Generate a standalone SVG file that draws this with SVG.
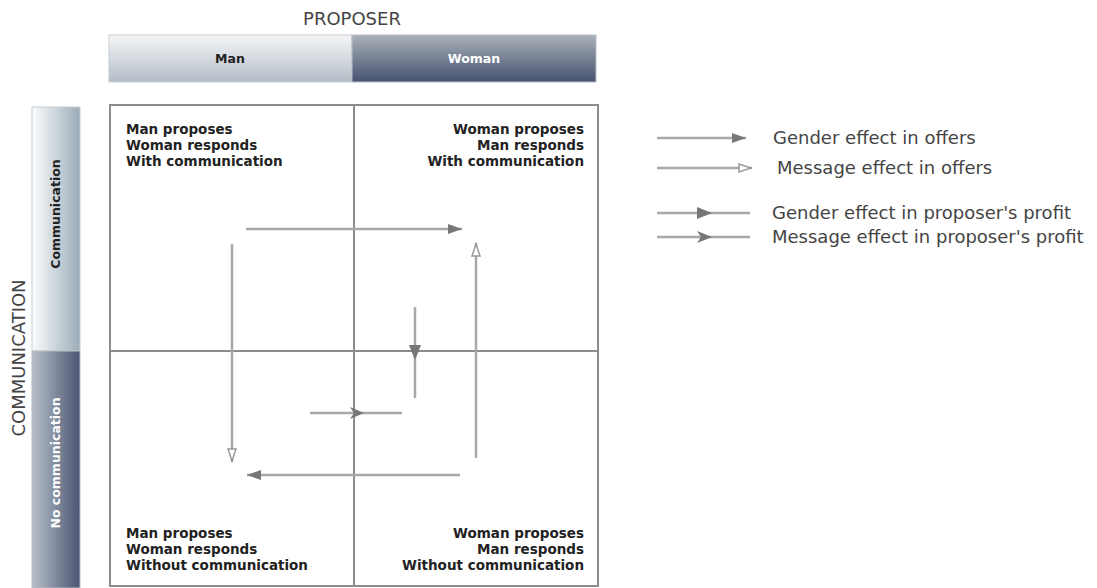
<svg xmlns="http://www.w3.org/2000/svg" width="1097" height="588" viewBox="0 0 1097 588">
<defs>
<linearGradient id="gMan" x1="0" y1="0" x2="0" y2="1"><stop offset="0" stop-color="#f5f6f7"/><stop offset="1" stop-color="#b3bdc6"/></linearGradient>
<linearGradient id="gWoman" x1="0" y1="0" x2="0" y2="1"><stop offset="0" stop-color="#a9b1b9"/><stop offset="1" stop-color="#465270"/></linearGradient>
<linearGradient id="gCom" x1="0" y1="0" x2="1" y2="0"><stop offset="0" stop-color="#fbfcfc"/><stop offset="1" stop-color="#9badb9"/></linearGradient>
<linearGradient id="gNoCom" x1="0" y1="0" x2="1" y2="0"><stop offset="0" stop-color="#b7c0c9"/><stop offset="1" stop-color="#4a5572"/></linearGradient>
<marker id="filled" markerUnits="userSpaceOnUse" markerWidth="16" markerHeight="12" refX="15" refY="6" orient="auto"><path d="M1,1 L15,6 L1,11 Z" fill="#777"/></marker>
<marker id="open" markerUnits="userSpaceOnUse" markerWidth="16" markerHeight="12" refX="15" refY="6" orient="auto"><path d="M2,2 L14,6 L2,10 Z" fill="#fff" stroke="#9a9a9a" stroke-width="1.5"/></marker>
</defs>
<style>
.lbl{font-family:"DejaVu Sans",Verdana,sans-serif;font-weight:bold;font-size:13.5px;fill:#222}
.hdr{font-family:"DejaVu Sans",Verdana,sans-serif;font-size:18px;fill:#444}
.leg{font-family:"DejaVu Sans",Verdana,sans-serif;font-size:18px;fill:#444}
.cat{font-family:"DejaVu Sans",Verdana,sans-serif;font-weight:bold;font-size:12.5px}
.ln{stroke:#a8a8a8;stroke-width:2.5;fill:none}
.grid{stroke:#8c8c8c;stroke-width:2;fill:none}
.head{fill:#777}
</style>

<g id="proposer-header">
<text class="hdr" x="352" y="25" text-anchor="middle">PROPOSER</text>
<rect x="109" y="35" width="243" height="47" fill="url(#gMan)" stroke="#c8cdd2" stroke-width="1"/>
<text class="cat" x="230" y="63" text-anchor="middle" fill="#222">Man</text>
<rect x="352" y="35" width="244" height="47" fill="url(#gWoman)" stroke="#b8bec4" stroke-width="1"/>
<text class="cat" x="474" y="63" text-anchor="middle" fill="#fff">Woman</text>
</g>

<g id="communication-header">
<text class="hdr" transform="translate(25,358) rotate(-90)" text-anchor="middle">COMMUNICATION</text>
<rect x="32" y="107" width="48" height="244" fill="url(#gCom)" stroke="#c8cdd2" stroke-width="1"/>
<text class="cat" transform="translate(60,214) rotate(-90)" text-anchor="middle" fill="#222">Communication</text>
<rect x="32" y="351" width="48" height="237" fill="url(#gNoCom)" stroke="#b8bec4" stroke-width="1"/>
<text class="cat" transform="translate(60,463) rotate(-90)" text-anchor="middle" fill="#fff">No communication</text>
</g>

<g id="grid">
<rect class="grid" x="110" y="105" width="488" height="481"/>
<line class="grid" x1="354" y1="105" x2="354" y2="586"/>
<line class="grid" x1="110" y1="351" x2="598" y2="351"/>
</g>

<g id="q-man-com">
<text class="lbl" x="126" y="134">Man proposes</text>
<text class="lbl" x="126" y="150">Woman responds</text>
<text class="lbl" x="126" y="166">With communication</text>
</g>
<g id="q-woman-com">
<text class="lbl" x="584" y="134" text-anchor="end">Woman proposes</text>
<text class="lbl" x="584" y="150" text-anchor="end">Man responds</text>
<text class="lbl" x="584" y="166" text-anchor="end">With communication</text>
</g>
<g id="q-man-nocom">
<text class="lbl" x="126" y="538">Man proposes</text>
<text class="lbl" x="126" y="554">Woman responds</text>
<text class="lbl" x="126" y="570">Without communication</text>
</g>
<g id="q-woman-nocom">
<text class="lbl" x="584" y="538" text-anchor="end">Woman proposes</text>
<text class="lbl" x="584" y="554" text-anchor="end">Man responds</text>
<text class="lbl" x="584" y="570" text-anchor="end">Without communication</text>
</g>

<g id="connectors">
<line class="ln" x1="246" y1="229" x2="462" y2="229" marker-end="url(#filled)"/>
<line class="ln" x1="232" y1="244" x2="232" y2="462" marker-end="url(#open)"/>
<line class="ln" x1="460" y1="475" x2="247" y2="475" marker-end="url(#filled)"/>
<line class="ln" x1="476" y1="458" x2="476" y2="243" marker-end="url(#open)"/>
<line class="ln" x1="415" y1="307" x2="415" y2="398"/>
<path class="head" d="M409,345 L421,345 L415,360 Z"/>
<line class="ln" x1="310" y1="413" x2="402" y2="413"/>
<path class="head" d="M350,407 L364,413 L350,419 L354,413 Z"/>
</g>

<g id="legend">
<line class="ln" x1="657" y1="138" x2="746" y2="138" marker-end="url(#filled)"/>
<text class="leg" x="773" y="144">Gender effect in offers</text>
<line class="ln" x1="657" y1="168" x2="752" y2="168" marker-end="url(#open)"/>
<text class="leg" x="777" y="174">Message effect in offers</text>
<line class="ln" x1="657" y1="213" x2="750" y2="213"/>
<path class="head" d="M697,207 L712,213 L697,219 Z"/>
<text class="leg" x="772" y="219">Gender effect in proposer's profit</text>
<line class="ln" x1="657" y1="237" x2="750" y2="237"/>
<path class="head" d="M697,231 L712,237 L697,243 L701,237 Z"/>
<text class="leg" x="772" y="243">Message effect in proposer's profit</text>
</g>
</svg>
